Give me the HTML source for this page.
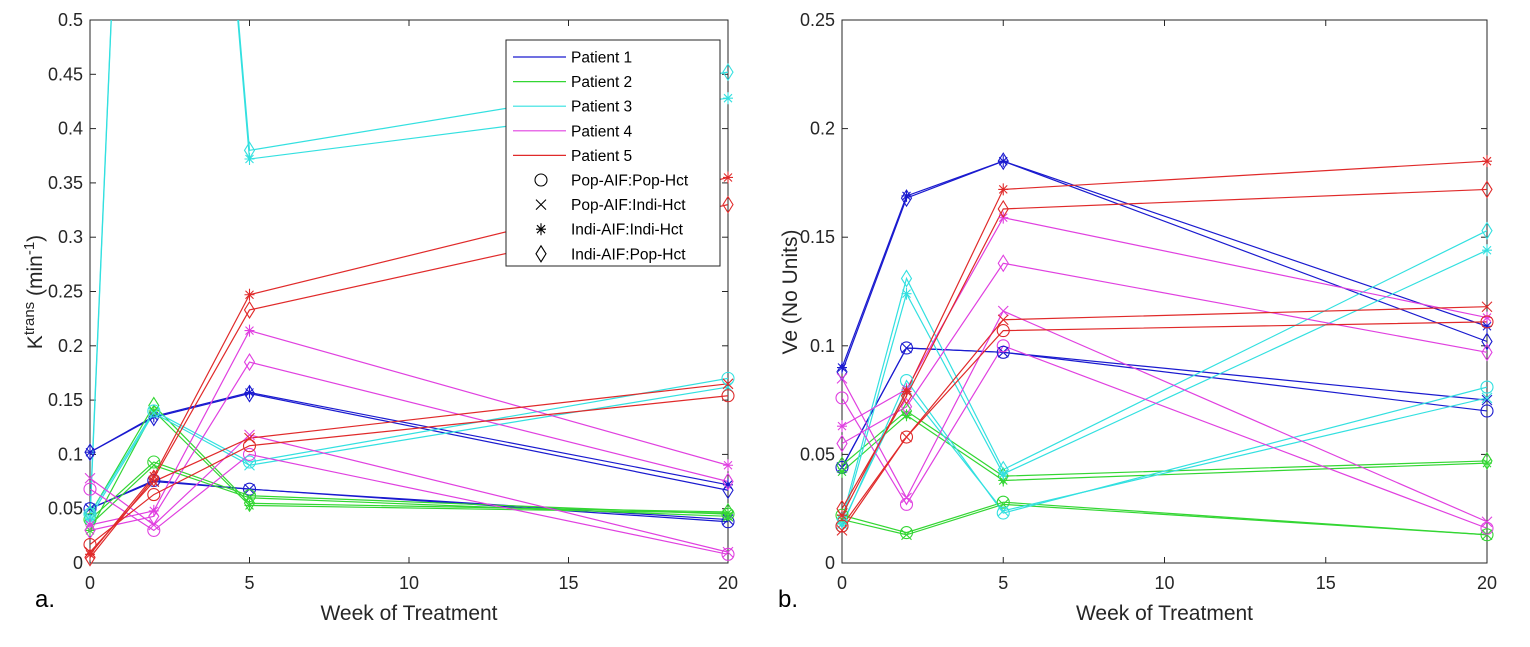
<!DOCTYPE html>
<html><head><meta charset="utf-8"><style>
body{margin:0;background:#fff;}
svg{font-family:"Liberation Sans",sans-serif;}
</style></head><body>
<svg id="c" width="1530" height="642" viewBox="0 0 1530 642" xmlns="http://www.w3.org/2000/svg">
<defs>
<clipPath id="clipA"><rect x="90" y="20" width="638" height="543"/></clipPath>
<clipPath id="clipB"><rect x="842" y="20" width="645" height="543"/></clipPath>
</defs>
</svg>
<script>
const weeks=[0,2,5,20];
const patients=["Patient 1","Patient 2","Patient 3","Patient 4","Patient 5"];
const colors=["#1a1acf","#33d633","#33e0e0","#e040e0","#e02a2a"];
const methods=["Pop-AIF:Pop-Hct","Pop-AIF:Indi-Hct","Indi-AIF:Indi-Hct","Indi-AIF:Pop-Hct"];
const methodMarkers=["circle","x","star","diamond"];
const xTicks=[0,5,10,15,20];
const ktransTicks=[0,0.05,0.1,0.15,0.2,0.25,0.3,0.35,0.4,0.45,0.5];
const ktransTickLabels=["0","0.05","0.1","0.15","0.2","0.25","0.3","0.35","0.4","0.45","0.5"];
const veTicks=[0,0.05,0.1,0.15,0.2,0.25];
const veTickLabels=["0","0.05","0.1","0.15","0.2","0.25"];
// Ktrans [patient][method][week]
const ktransP1=[[0.05,0.076,0.068,0.038],[0.05,0.075,0.068,0.04],[0.102,0.135,0.157,0.072],[0.102,0.134,0.156,0.067]];
const ktransP2=[[0.04,0.093,0.062,0.045],[0.035,0.09,0.06,0.043],[0.03,0.14,0.053,0.046],[0.045,0.145,0.055,0.047]];
const ktransP3=[[0.045,0.14,0.093,0.17],[0.042,0.138,0.09,0.162],[0.04,1.42,0.372,0.428],[0.045,1.42,0.38,0.452]];
const ktransP4=[[0.068,0.03,0.1,0.008],[0.078,0.035,0.118,0.01],[0.035,0.048,0.214,0.09],[0.03,0.043,0.185,0.075]];
const ktransP5=[[0.017,0.063,0.108,0.154],[0.01,0.075,0.115,0.165],[0.008,0.08,0.247,0.355],[0.005,0.078,0.233,0.33]];
// Ve [patient][method][week]
const veP1=[[0.044,0.099,0.097,0.07],[0.044,0.099,0.097,0.075],[0.09,0.169,0.185,0.109],[0.088,0.168,0.185,0.102]];
const veP2=[[0.022,0.014,0.028,0.013],[0.02,0.013,0.027,0.013],[0.042,0.068,0.038,0.046],[0.045,0.07,0.04,0.047]];
const veP3=[[0.017,0.084,0.023,0.081],[0.018,0.08,0.024,0.076],[0.018,0.124,0.041,0.144],[0.02,0.131,0.043,0.153]];
const veP4=[[0.076,0.027,0.1,0.016],[0.085,0.03,0.116,0.019],[0.063,0.08,0.159,0.113],[0.055,0.072,0.138,0.097]];
const veP5=[[0.017,0.058,0.107,0.111],[0.015,0.058,0.112,0.118],[0.022,0.079,0.172,0.185],[0.025,0.077,0.163,0.172]];
const ktransData=[ktransP1,ktransP2,ktransP3,ktransP4,ktransP5];
const veData=[veP1,veP2,veP3,veP4,veP5];

const NS="http://www.w3.org/2000/svg";
const svg=document.getElementById('c');
function mk(tag,attrs,parent){const e=document.createElementNS(NS,tag);for(const k in attrs)e.setAttribute(k,attrs[k]);(parent||svg).appendChild(e);return e;}

function marker(g,type,x,y,col){
  let e;
  if(type==="circle"){e=mk('circle',{cx:x,cy:y,r:6,fill:'none',stroke:col,'stroke-width':1.1},g);}
  else if(type==="x"){e=mk('path',{d:`M${x-5},${y-5}L${x+5},${y+5}M${x-5},${y+5}L${x+5},${y-5}`,stroke:col,'stroke-width':1.1,fill:'none'},g);}
  else if(type==="star"){e=mk('path',{d:`M${x-5},${y}L${x+5},${y}M${x},${y-6}L${x},${y+6}M${x-4},${y-4}L${x+4},${y+4}M${x-4},${y+4}L${x+4},${y-4}`,stroke:col,'stroke-width':1.1,fill:'none'},g);}
  else {e=mk('path',{d:`M${x},${y-8}L${x+5},${y}L${x},${y+8}L${x-5},${y}Z`,stroke:col,'stroke-width':1.1,fill:'none'},g);}
  return e;
}

function panel(opt){
  const {x0,x1,y0,y1,ymax,data,yTicks,yLabels,clip,name}=opt;
  const sx=v=>x0+(v/20)*(x1-x0);
  const sy=v=>y1-(v/ymax)*(y1-y0);
  const g=mk('g',{});
  
  
  mk('rect',{x:x0,y:y0,width:x1-x0,height:y1-y0,fill:'#fff',stroke:'#262626','stroke-width':1},g);
  xTicks.forEach(t=>{
    const X=sx(t);
    mk('line',{x1:X,y1:y1,x2:X,y2:y1-6,stroke:'#262626'},g);
    mk('line',{x1:X,y1:y0,x2:X,y2:y0+6,stroke:'#262626'},g);
    const tx=mk('text',{x:X,y:y1+26,'text-anchor':'middle','font-size':18,fill:'#262626'},g);
    tx.textContent=t;
    
    
  });
  yTicks.forEach((t,i)=>{
    const Y=sy(t);
    mk('line',{x1:x0,y1:Y,x2:x0+6,y2:Y,stroke:'#262626'},g);
    mk('line',{x1:x1,y1:Y,x2:x1-6,y2:Y,stroke:'#262626'},g);
    const tx=mk('text',{x:x0-7,y:Y+6,'text-anchor':'end','font-size':18,fill:'#262626'},g);
    tx.textContent=yLabels[i];
    
    
  });
  const sg=mk('g',{'clip-path':`url(#${clip})`},g);
  const mg=mk('g',{},g);
  data.forEach((pd,p)=>{
    pd.forEach((vals,m)=>{
      const pts=vals.map((v,i)=>sx(weeks[i])+','+sy(v)).join(' ');
      const pl=mk('polyline',{points:pts,fill:'none',stroke:colors[p],'stroke-width':1.2},sg);
      
      
      vals.forEach((v,i)=>{
        if(v>ymax) return;
        const mkEl=marker(mg,methodMarkers[m],sx(weeks[i]),sy(v),colors[p]);
        
        
      });
    });
  });
  const xl=mk('text',{x:(x0+x1)/2,y:620,'text-anchor':'middle','font-size':21,fill:'#262626'},g);
  xl.textContent='Week of Treatment';
  
  
  return {sx,sy};
}

panel({x0:90,x1:728,y0:20,y1:563,ymax:0.5,data:ktransData,yTicks:ktransTicks,yLabels:ktransTickLabels,clip:'clipA',name:'ktrans'});
panel({x0:842,x1:1487,y0:20,y1:563,ymax:0.25,data:veData,yTicks:veTicks,yLabels:veTickLabels,clip:'clipB',name:'ve'});

const yt1=mk('text',{x:0,y:0,transform:'translate(42,292) rotate(-90)','text-anchor':'middle','font-size':21,fill:'#262626'});
yt1.innerHTML='K<tspan dy="-8" font-size="15">trans</tspan><tspan dy="8"> (min</tspan><tspan dy="-8" font-size="15">-1</tspan><tspan dy="8">)</tspan>';


const yt2=mk('text',{x:0,y:0,transform:'translate(797,292) rotate(-90)','text-anchor':'middle','font-size':21,fill:'#262626'});
yt2.textContent='Ve (No Units)';



const la=mk('text',{x:35,y:607,'font-size':24,fill:'#000'});la.textContent='a.';


const lb=mk('text',{x:778,y:607,'font-size':24,fill:'#000'});lb.textContent='b.';



const lg=mk('g',{});


mk('rect',{x:506,y:40,width:214,height:226,fill:'#fff',stroke:'#262626','stroke-width':1},lg);
patients.forEach((p,i)=>{
  const y=57+i*24.6;
  const eg=mk('g',{},lg);
  
  
  mk('line',{x1:513,y1:y,x2:566,y2:y,stroke:colors[i],'stroke-width':1.2},eg);
  const t=mk('text',{x:571,y:y+5.5,'font-size':15.5,fill:'#000'},eg);t.textContent=p;
});
methods.forEach((m,i)=>{
  const y=57+(i+5)*24.6;
  const eg=mk('g',{},lg);
  
  
  marker(eg,methodMarkers[i],541,y,'#000');
  const t=mk('text',{x:571,y:y+5.5,'font-size':15.5,fill:'#000'},eg);t.textContent=m;
});
</script>
</body></html>
